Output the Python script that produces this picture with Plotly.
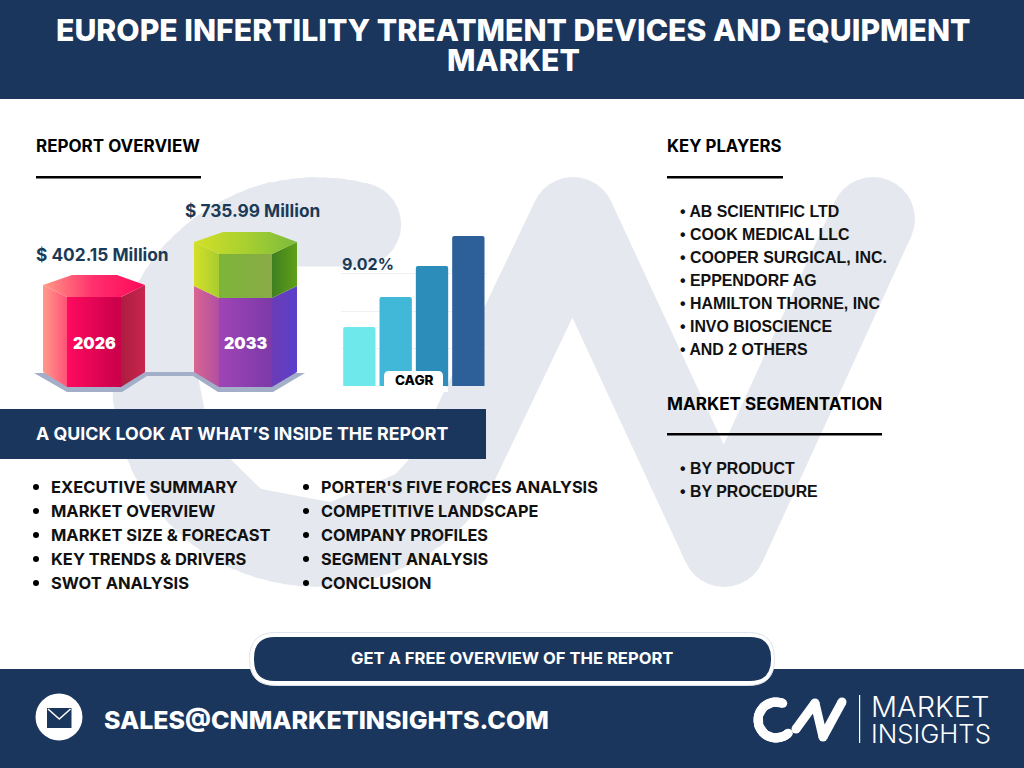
import numpy as np
import plotly.graph_objects as go

NAVY = '#1a365d'
TEXT_NAVY = '#1b3a57'
WATERMARK = '#e5e8ee'
HEAD = 'Inter'

title_lines = ['EUROPE INFERTILITY TREATMENT DEVICES AND EQUIPMENT', 'MARKET']
start_year = '2026'
end_year = '2033'
start_value = '$ 402.15 Million'
end_value = '$ 735.99 Million'
cagr_text = '9.02%'
cagr_steps = [0, 1, 2, 3]
cagr_bars = [59, 89, 120, 150]
cagr_colors = ['#6ee8ea', '#42b8d8', '#2c8cba', '#2d6099']
players = ['AB SCIENTIFIC LTD', 'COOK MEDICAL LLC', 'COOPER SURGICAL, INC.', 'EPPENDORF AG',
           'HAMILTON THORNE, INC', 'INVO BIOSCIENCE', 'AND 2 OTHERS']
segments = ['BY PRODUCT', 'BY PROCEDURE']
contents_left = ['EXECUTIVE SUMMARY', 'MARKET OVERVIEW', 'MARKET SIZE & FORECAST',
                 'KEY TRENDS & DRIVERS', 'SWOT ANALYSIS']
contents_right = ["PORTER'S FIVE FORCES ANALYSIS", 'COMPETITIVE LANDSCAPE', 'COMPANY PROFILES',
                  'SEGMENT ANALYSIS', 'CONCLUSION']

fig = go.Figure()
shapes = []
notes = []


def label(x, y, s, size, color='black', anchor='left', family=HEAD, weight=700):
    notes.append(dict(x=x, y=y, text=s, xref='x', yref='y', showarrow=False, xanchor=anchor,
                      yanchor='middle', borderpad=0,
                      font=dict(family=family, size=size, color=color, weight=weight)))


def rect(x0, y0, x1, y1, color):
    shapes.append(dict(type='rect', x0=x0, y0=y0, x1=x1, y1=y1, fillcolor=color,
                       line_width=0, layer='above'))


def rounded(x0, y0, x1, y1, r, color, edge=None):
    p = (f'M{x0+r},{y0} L{x1-r},{y0} Q{x1},{y0} {x1},{y0+r} L{x1},{y1-r} Q{x1},{y1} {x1-r},{y1} '
         f'L{x0+r},{y1} Q{x0},{y1} {x0},{y1-r} L{x0},{y0+r} Q{x0},{y0} {x0+r},{y0} Z')
    shapes.append(dict(type='path', path=p, fillcolor=color, layer='above',
                       line=dict(color=edge or color, width=1 if edge else 0)))


def stroke(xs, ys, width, color):
    # round ends come from the markers sitting on the line
    fig.add_trace(go.Scatter(x=xs, y=ys, mode='lines+markers', hoverinfo='skip',
                             line=dict(color=color, width=width),
                             marker=dict(color=color, size=width, line_width=0)))


def arc(cx, cy, r, a0, a1):
    a = np.radians(np.linspace(a0, a1, 60))
    return list(cx + r * np.cos(a)), list(cy + r * np.sin(a))


def poly(xs, ys, c0, c1=None, c2=None):
    if c1 is None:
        fig.add_trace(go.Scatter(x=xs, y=ys, mode='none', fill='toself', fillcolor=c0, hoverinfo='skip'))
        return
    scale = [[0, c0], [1, c1]] if c2 is None else [[0, c0], [0.5, c1], [1, c2]]
    fig.add_trace(go.Scatter(x=xs, y=ys, mode='none', fill='toself', hoverinfo='skip',
                             fillgradient=dict(type='horizontal', colorscale=scale)))


# big watermark logo behind everything
wx, wy = arc(317, 382, 163, -75, -75 - 250)
stroke(wx + [573, 724, 873], wy + [219, 545, 219], 84, WATERMARK)

# stand under the two prisms
poly([34, 67, 122, 147, 193, 218, 273, 305, 273, 218, 193, 147, 122, 67],
     [373, 392, 392, 376, 376, 392, 392, 373, 373, 373, 372, 372, 373, 373], '#a3aec8')


def prism(x, y_top, y_base):
    # x: left, front left, front right, right edge
    return x[0], x[1], x[2], x[3], y_top, y_top + 12, y_base, y_base + 15


# 2026 prism
a, b, c, d, t, m, base, low = prism([43, 67, 121, 145], 285, 372)
poly([a, b, b, a], [t, m, low, base], '#ff9a8b', '#ff5277')
poly([b, c, c, b], [m, m, low, low], '#ff0a5e', '#c8004a')
poly([c, d, d, c], [m, t, base, low], '#ad1d3f', '#c9264f')
poly([a, 72, 117, d, c, b], [t, 275, 275, t, m, m], '#ff9a85', '#ff2e6c', '#ff0a5a')

# 2033 prism, purple lower part then green upper part
a, b, c, d, t, m, base, low = prism([194, 219, 272, 297], 286, 372)
poly([a, b, b, a], [t, m, low, base], '#da6690', '#b04fa2')
poly([b, c, c, b], [m, m, low, low], '#a044b5', '#7c3aa8')
poly([c, d, d, c], [m, t, base, low], '#6b3cb5', '#5a3fcc')
poly([a, b, b, a], [242, 254, m, t], '#d4e028', '#a8cc30')
poly([b, c, c, b], [254, 254, m, m], '#7cb538', '#8aab48')
poly([c, d, d, c], [254, 242, t, m], '#3f7f20', '#5fa018')
poly([a, 223, 270, d, c, b], [242, 232, 232, 242, 254, 254], '#d4e028', '#a8d030', '#7cbb3c')

# CAGR bars on their own little axes
fig.add_trace(go.Bar(x=cagr_steps, y=cagr_bars, marker=dict(color=cagr_colors, line_width=0),
                     xaxis='x2', yaxis='y2', hoverinfo='skip'))

# footer logo
lx, ly = arc(776, 720, 18, -68, -68 - 245)
fig.add_trace(go.Scatter(x=[0, 1024, 1024, 0], y=[669, 669, 768, 768], mode='none', fill='toself',
                         fillcolor=NAVY, hoverinfo='skip'))
fig.add_trace(go.Scatter(x=[59], y=[717], mode='markers', hoverinfo='skip',
                         marker=dict(color='white', size=47, line_width=0)))
stroke(lx, ly, 9, 'white')
stroke([796, 815, 823, 842], [729, 703, 737, 702], 9, 'white')

# header, banner, rules, pills
rect(0, 0, 1024, 99, NAVY)
rect(0, 409, 486, 459, NAVY)
rect(36, 176, 201, 178.5, 'black')
rect(667, 176, 783, 178.5, 'black')
rect(667, 433, 882, 435.5, 'black')
rect(859, 695, 860.2, 743, 'white')
rounded(249.5, 632.5, 774.5, 685.5, 26, 'white', '#dfe3ea')
rounded(254, 637, 771, 681, 21, NAVY)
rounded(384, 371, 443, 395, 5, 'white')
rect(380, 387, 448, 392, 'white')
rect(47, 708, 71.5, 728, NAVY)
shapes.append(dict(type='path', path='M48,709 L59.3,719 L70.5,709', layer='above',
                   line=dict(color='white', width=1.5)))

# text
label(513, 30, title_lines[0], 30.2, 'white', 'center', weight=800)
label(513, 60, title_lines[1], 30.2, 'white', 'center', weight=800)
label(35, 146, 'REPORT OVERVIEW', 17)
label(666, 146, 'KEY PLAYERS', 16.8)
label(666, 403, 'MARKET SEGMENTATION', 17.1)
label(35, 254, start_value, 17.3, TEXT_NAVY)
label(184, 210, end_value, 17.3, TEXT_NAVY)
label(341, 264, cagr_text, 16, TEXT_NAVY)
label(94, 343, start_year, 16, 'white', 'center', weight=900)
label(245, 343, end_year, 16, 'white', 'center', weight=900)
label(414, 380, 'CAGR', 13.5, 'black', 'center', weight=800)
label(35, 433, 'A QUICK LOOK AT WHAT’S INSIDE THE REPORT', 17.8, 'white')
label(512, 658, 'GET A FREE OVERVIEW OF THE REPORT', 16.6, 'white', 'center')
label(103, 720, 'SALES@CNMARKETINSIGHTS.COM', 25, 'white', weight=800)
label(870, 706, 'MARKET', 29, 'white', weight=300)
label(870, 733, 'INSIGHTS', 25.7, 'white', weight=300)

for i, s in enumerate(players):
    label(679, 211 + i * 23, '• ' + s, 15.9, '#111111', family='Liberation Sans')
for i, s in enumerate(segments):
    label(679, 468 + i * 23, '• ' + s, 15.9, '#111111', family='Liberation Sans')
for i, s in enumerate(contents_left):
    label(50, 487 + i * 24, s, 16.5, '#111111', weight=700)
for i, s in enumerate(contents_right):
    label(320, 487 + i * 24, s, 16.3, '#111111', weight=700)
fig.add_trace(go.Scatter(x=[36] * 5 + [306] * 5, y=[487 + i * 24 for i in range(5)] * 2, mode='markers',
                         hoverinfo='skip', marker=dict(color='black', size=6, line_width=0)))

hidden = dict(visible=False, fixedrange=True)
fig.update_layout(
    width=1024, height=768, margin=dict(l=0, r=0, t=0, b=0), showlegend=False,
    paper_bgcolor='white', plot_bgcolor='rgba(0,0,0,0)', bargap=0.11, barcornerradius=2,
    shapes=shapes, annotations=notes,
    xaxis=dict(range=[0, 1024], domain=[0, 1], **hidden),
    yaxis=dict(range=[768, 0], domain=[0, 1], **hidden),
    xaxis2=dict(range=[-0.5, 3.5], domain=[341.2 / 1024, 486.5 / 1024], anchor='y2', visible=False, fixedrange=True),
    yaxis2=dict(range=[0, 150], domain=[382 / 768, 532 / 768], anchor='x2', fixedrange=True, dtick=37.5,
                showticklabels=False, ticks='', zeroline=False, showline=False,
                showgrid=True, gridcolor='#eef0f3', gridwidth=1),
)

fig.write_html('out.html', config={'displayModeBar': False},
               post_script="document.body.style.margin='0';document.body.style.overflow='hidden';")
